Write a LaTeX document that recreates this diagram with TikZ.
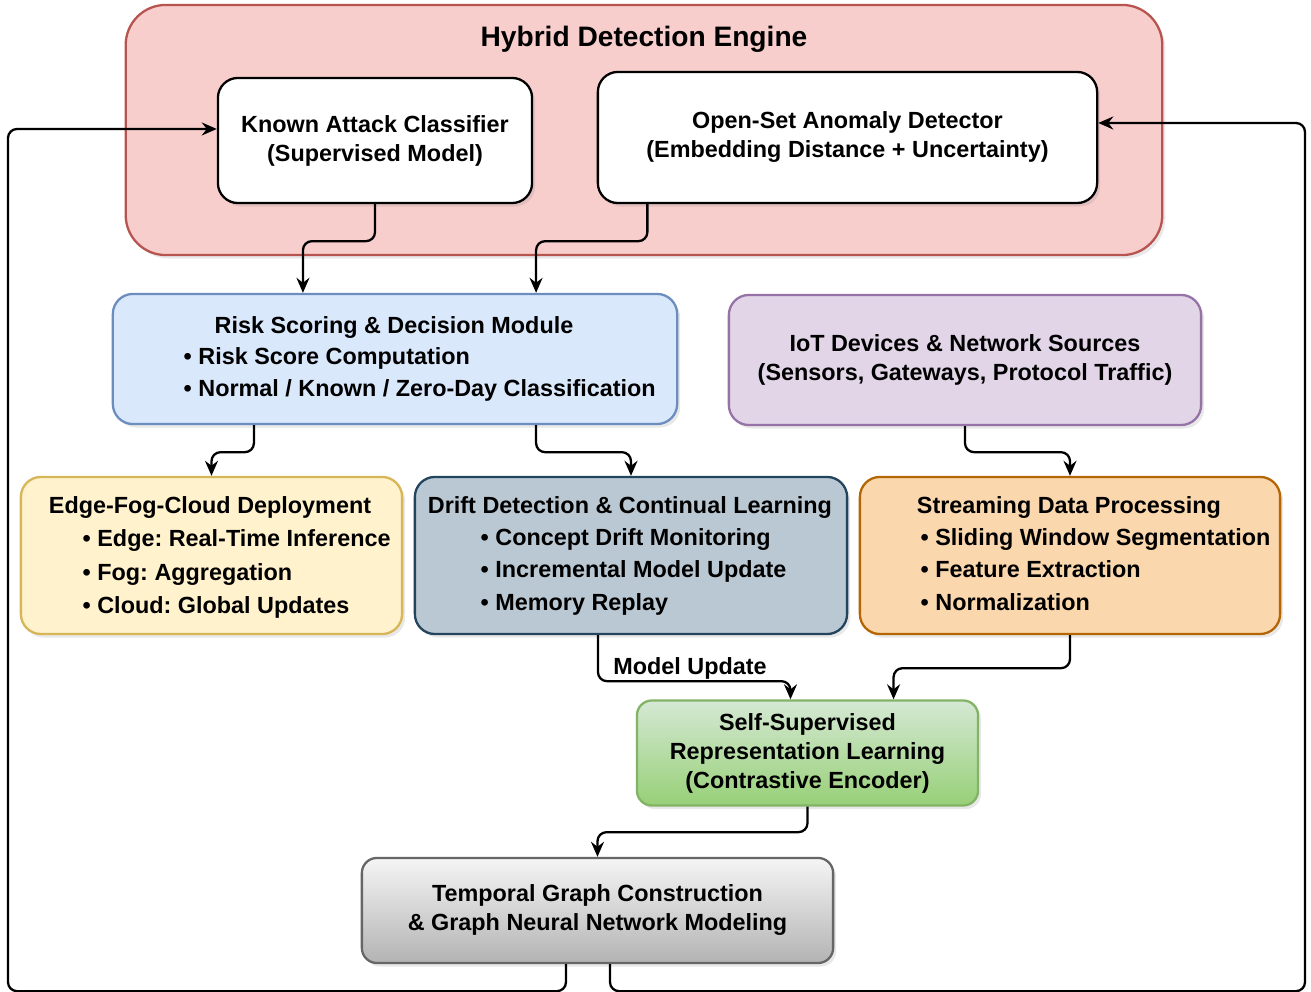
\documentclass[tikz,border=0pt]{standalone}
\usepackage{fontspec}
\setmainfont{Liberation Sans}
\frenchspacing
\usetikzlibrary{arrows.meta}
\usetikzlibrary{shadows}

\definecolor{enginefill}{HTML}{F8CECC}
\definecolor{enginedraw}{HTML}{B85450}
\definecolor{riskfill}{HTML}{DAE8FC}
\definecolor{riskdraw}{HTML}{6C8EBF}
\definecolor{iotfill}{HTML}{E1D5E7}
\definecolor{iotdraw}{HTML}{9673A6}
\definecolor{edgefill}{HTML}{FFF2CC}
\definecolor{edgedraw}{HTML}{D6B656}
\definecolor{driftfill}{HTML}{BAC8D3}
\definecolor{driftdraw}{HTML}{23445D}
\definecolor{streamfill}{HTML}{FAD7AC}
\definecolor{streamdraw}{HTML}{B46504}
\definecolor{sslTop}{HTML}{D5E8D4}
\definecolor{sslBottom}{HTML}{97D077}
\definecolor{ssldraw}{HTML}{82B366}
\definecolor{graphTop}{HTML}{F5F5F5}
\definecolor{graphBottom}{HTML}{B3B3B3}
\definecolor{graphdraw}{HTML}{666666}

\begin{document}
\begin{tikzpicture}[x=0.01cm, y=-0.01cm,
    box/.style={draw, line width=0.65pt, rounded corners=0.2cm, align=center,
      font=\fontsize{6.65}{8.25}\selectfont\bfseries,
      drop shadow={shadow xshift=0.03cm, shadow yshift=-0.035cm, opacity=0.18}},
    line/.style={font=\fontsize{6.65}{8.25}\selectfont\bfseries, inner sep=0pt,
      text height=4.76pt, text depth=0pt},
    arr/.style={line width=0.65pt, rounded corners=0.09cm,
      -{Stealth[length=1.5mm, width=1.3mm, inset=0.5mm]}}]
  \useasboundingbox (0,0) rectangle (1311,992);

  % detection engine
  \node[box, fill=enginefill, draw=enginedraw, rounded corners=0.4cm,
    minimum width=10.36cm, minimum height=2.5cm] (engine) at (644,130) {};
  \node[line, font=\fontsize{8}{9.6}\selectfont\bfseries, text height=5.73pt] (enginetitle) at (644,36) {Hybrid Detection Engine};
  \node[box, fill=white, minimum width=3.14cm, minimum height=1.25cm] (known) at (375,140.5)
    {Known Attack Classifier\\(Supervised Model)};
  \node[box, fill=white, minimum width=4.99cm, minimum height=1.31cm] (open) at (847.5,137.5)
    {Open-Set Anomaly Detector\\(Embedding Distance + Uncertainty)};

  % second row
  \node[box, fill=riskfill, draw=riskdraw, minimum width=5.64cm, minimum height=1.3cm] (risk) at (395,359) {};
  \node[line] (risktitle) at (394,325) {Risk Scoring \& Decision Module};
  \node[line, anchor=west] (risk1) at (183,356) {• Risk Score Computation};
  \node[line, anchor=west] (risk2) at (183,388) {• Normal / Known / Zero-Day Classification};

  \node[box, fill=iotfill, draw=iotdraw, minimum width=4.72cm, minimum height=1.3cm] (iot) at (965,360)
    {IoT Devices \& Network Sources\\(Sensors, Gateways, Protocol Traffic)};

  % third row
  \node[box, fill=edgefill, draw=edgedraw, minimum width=3.81cm, minimum height=1.57cm] (edge) at (211.5,555.5) {};
  \node[line] (edgetitle) at (210,505) {Edge-Fog-Cloud Deployment};
  \node[line, anchor=west] (edge1) at (82,538) {• Edge: Real-Time Inference};
  \node[line, anchor=west] (edge2) at (82,572) {• Fog: Aggregation};
  \node[line, anchor=west] (edge3) at (82,605) {• Cloud: Global Updates};

  \node[box, fill=driftfill, draw=driftdraw, minimum width=4.32cm, minimum height=1.57cm] (drift) at (631,555.5) {};
  \node[line] (drifttitle) at (630,505) {Drift Detection \& Continual Learning};
  \node[line, anchor=west] (drift1) at (480,537) {• Concept Drift Monitoring};
  \node[line, anchor=west] (drift2) at (480,569) {• Incremental Model Update};
  \node[line, anchor=west] (drift3) at (480,602) {• Memory Replay};

  \node[box, fill=streamfill, draw=streamdraw, minimum width=4.2cm, minimum height=1.57cm] (stream) at (1070,555.5) {};
  \node[line] (streamtitle) at (1069,505) {Streaming Data Processing};
  \node[line, anchor=west] (stream1) at (920,537) {• Sliding Window Segmentation};
  \node[line, anchor=west] (stream2) at (920,569) {• Feature Extraction};
  \node[line, anchor=west] (stream3) at (920,602) {• Normalization};

  % lower boxes
  \node[box, top color=sslTop, bottom color=sslBottom, draw=ssldraw, rounded corners=0.15cm,
    minimum width=3.41cm, minimum height=1.05cm] (ssl) at (807.5,753)
    {Self-Supervised\\Representation Learning\\(Contrastive Encoder)};
  \node[box, top color=graphTop, bottom color=graphBottom, draw=graphdraw, rounded corners=0.15cm,
    minimum width=4.71cm, minimum height=1.05cm] (graph) at (597.5,910.5)
    {Temporal Graph Construction\\\& Graph Neural Network Modeling};

  % connectors
  \draw[arr] (known.south) -- ++(0,37) -| ([xshift=-0.92cm]risk.north);
  \draw[arr] ([xshift=-2cm]open.south) -- ++(0,37) -| ([xshift=1.41cm]risk.north);
  \draw[arr] ([xshift=-1.41cm]risk.south) -- ++(0,27) -| (edge.north);
  \draw[arr] ([xshift=1.41cm]risk.south) -- ++(0,27) -| (drift.north);
  \draw[arr] (iot.south) -- ++(0,26) -| (stream.north);
  \draw[arr] ([xshift=-0.33cm]drift.south) -- ++(0,46) -| ([xshift=-0.17cm]ssl.north);
  \node[line] (updatelabel) at (690,666) {Model Update};
  \draw[arr] (stream.south) -- ++(0,33) -| ([xshift=0.86cm]ssl.north);
  \draw[arr] (ssl.south) -- ++(0,25.5) -| (graph.north);
  \draw[arr] ([xshift=-0.315cm]graph.south) -- ++(0,27) -| (8,129) -- ([yshift=0.115cm]known.west);
  \draw[arr] ([xshift=0.125cm]graph.south) -- ++(0,27) -| (1305,123) -- ([yshift=0.145cm]open.east);
\end{tikzpicture}
\end{document}
